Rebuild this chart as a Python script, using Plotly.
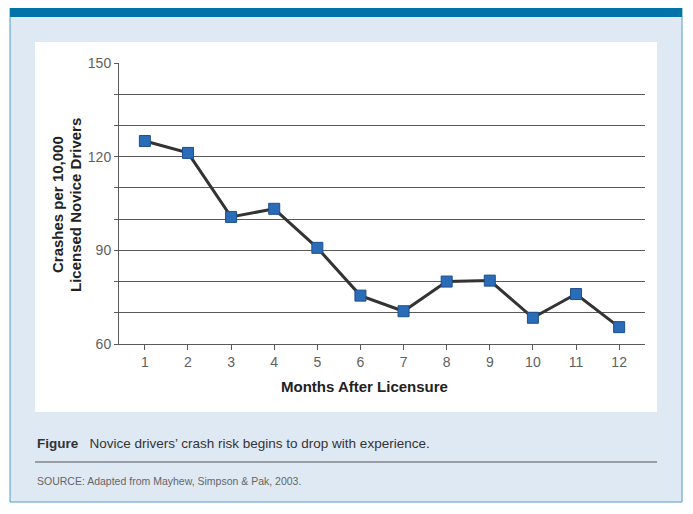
import plotly.graph_objects as go

# ---- data ----
months = [1, 2, 3, 4, 5, 6, 7, 8, 9, 10, 11, 12]
crashes = [125, 121.2, 100.7, 103.3, 90.8, 75.5, 70.5, 80, 80.3, 68.4, 76, 65.4]
y_tick_vals = [60, 90, 120, 150]
y_all_ticks = [60, 70, 80, 90, 100, 110, 120, 130, 140, 150]
x_title = "Months After Licensure"
y_title_1 = "Crashes per 10,000"
y_title_2 = "Licensed Novice Drivers"
caption_bold = "Figure"
caption_text = "Novice drivers’ crash risk begins to drop with experience."
source_text = "SOURCE: Adapted from Mayhew, Simpson &amp; Pak, 2003."

W, H = 693, 514
OFF = 8  # page body margin offset
L, R, T, B = 119 - OFF, 645 - OFF, 63 - OFF, 344 - OFF  # plot area in figure pixels


def px(x):
    return (x - OFF - L) / (R - L)


def py(y):
    return (B - (y - OFF)) / (B - T)


FONT = "Liberation Sans, Arial, sans-serif"
GRID = "#5a5a5a"

fig = go.Figure()
fig.add_trace(go.Scatter(
    x=months, y=crashes, mode="lines+markers",
    line=dict(color="#333333", width=3),
    marker=dict(symbol="square", size=11, color="#2b6cb8",
                line=dict(color="#1d4f8c", width=1)),
    showlegend=False, hoverinfo="x+y",
))

shapes = [
    dict(type="rect", xref="paper", yref="paper", x0=px(10), x1=px(682), y0=py(502), y1=py(8),
         fillcolor="#dfe9f4", line=dict(color="#4f9cc4", width=1), layer="below"),
    dict(type="rect", xref="paper", yref="paper", x0=px(10), x1=px(682), y0=py(17), y1=py(8),
         fillcolor="#0074a8", line=dict(width=0), layer="below"),
    dict(type="rect", xref="paper", yref="paper", x0=px(35), x1=px(657), y0=py(412), y1=py(42),
         fillcolor="#ffffff", line=dict(width=0), layer="below"),
    dict(type="line", xref="paper", yref="paper", x0=px(35), x1=px(657), y0=py(462), y1=py(462),
         line=dict(color="#555555", width=1.2)),
]

annotations = [
    dict(text=f"<b>{x_title}</b>", xref="paper", yref="paper", x=px(364), y=py(386),
         showarrow=False, font=dict(family=FONT, size=15, color="#222222"),
         xanchor="center", yanchor="middle"),
    dict(text=f"<b>{y_title_1}</b>", xref="paper", yref="paper", x=px(58), y=py(205),
         showarrow=False, textangle=-90, font=dict(family=FONT, size=15, color="#222222"),
         xanchor="center", yanchor="middle"),
    dict(text=f"<b>{y_title_2}</b>", xref="paper", yref="paper", x=px(76), y=py(205),
         showarrow=False, textangle=-90, font=dict(family=FONT, size=15, color="#222222"),
         xanchor="center", yanchor="middle"),
    dict(text=f"<b>{caption_bold}</b>   {caption_text}", xref="paper", yref="paper",
         x=px(35), y=py(443), showarrow=False, xanchor="left", yanchor="middle",
         font=dict(family=FONT, size=13.5, color="#333333")),
    dict(text=source_text, xref="paper", yref="paper",
         x=px(35), y=py(481), showarrow=False, xanchor="left", yanchor="middle",
         font=dict(family=FONT, size=10.5, color="#666666")),
]

fig.update_layout(
    width=W, height=H,
    margin=dict(l=L, r=W - R, t=T, b=H - B, pad=0),
    paper_bgcolor="#ffffff", plot_bgcolor="rgba(0,0,0,0)",
    shapes=shapes, annotations=annotations,
    font=dict(family=FONT, color="#555555"),
    xaxis=dict(
        range=[0.4, 12.6], tickmode="array", tickvals=months,
        ticktext=[str(m) for m in months],
        showgrid=False, zeroline=False,
        showline=True, linecolor=GRID, linewidth=1,
        ticks="outside", ticklen=5, tickcolor=GRID, tickwidth=1,
        tickfont=dict(family=FONT, size=14, color="#5f5f5f"),
        fixedrange=True,
    ),
    yaxis=dict(
        range=[60, 150], tickmode="array",
        tickvals=y_all_ticks,
        ticktext=[str(v) if v in y_tick_vals else "" for v in y_all_ticks],
        showgrid=True, gridcolor=GRID, gridwidth=1,
        zeroline=False,
        showline=True, linecolor=GRID, linewidth=1,
        ticks="outside", ticklen=4, tickcolor=GRID, tickwidth=1,
        tickfont=dict(family=FONT, size=14, color="#5f5f5f"),
        fixedrange=True,
    ),
)

fig.write_html("out.html")
